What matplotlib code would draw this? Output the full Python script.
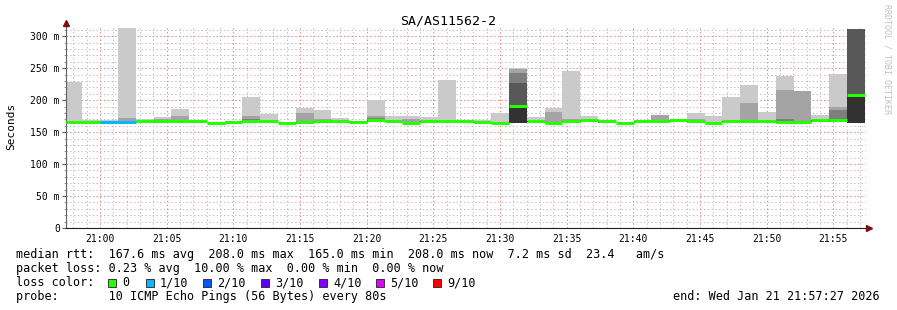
import matplotlib.pyplot as plt
from matplotlib.patches import Rectangle
import numpy as np

# ---- data (ms), one value per 80 s step ----
rtt_min = [165, 165, 165, 165, 166, 166, 166, 166, 164, 165,
           166, 166, 164, 165, 166, 166, 165, 166, 166, 164,
           166, 166, 166, 165, 164, 165, 166, 164, 166, 166,
           165, 164, 165, 166, 166, 166, 164, 166, 166, 166,
           165, 165, 166, 166, 165]
# sorted upper pings of the 10: p9 = max ... p5
p9 = [229, 169, 169, 313, 171, 173, 186, 168, 166, 167,
      205, 178, 165, 187, 184, 172, 167, 200, 175, 175,
      173, 231, 168, 169, 180, 251, 173, 187, 246, 175,
      168.5, 165, 167, 176, 169, 180, 174.5, 205, 223, 181,
      238, 214, 177, 241, 312]
p8 = [166, 166, 166, 172, 168, 170, 175, 167, 165, 166,
      175, 167, 165, 180, 170, 167, 166, 175, 167, 170,
      169, 167, 168, 166, 165, 248, 167, 181, 171, 169,
      168, 165, 167, 176, 169, 170, 165, 167, 196, 167,
      216, 214, 169, 190, 312]
p7 = [166, 166, 166, 166, 167, 167, 167, 167, 165, 166,
      171, 167, 165, 166, 167, 167, 166, 172, 167, 165,
      167, 167, 168, 166, 165, 242, 167, 165, 167, 169,
      168, 165, 167, 167, 169, 167, 165, 167, 167, 167,
      170, 166, 169, 184, 312]
p6 = [166, 166, 166, 166, 167, 167, 167, 167, 165, 166,
      168, 167, 165, 166, 167, 167, 166, 169, 167, 165,
      167, 167, 168, 166, 165, 227, 167, 165, 167, 169,
      168, 165, 167, 167, 169, 167, 165, 167, 167, 167,
      166, 166, 169, 169, 312]
p5 = [166, 166, 166, 166, 167, 167, 167, 167, 165, 166,
      168, 167, 165, 166, 167, 167, 166, 169, 167, 165,
      167, 167, 168, 166, 165, 192, 167, 165, 167, 169,
      168, 165, 167, 167, 169, 167, 165, 167, 167, 167,
      166, 166, 169, 169, 209]
median = [166, 166, 166, 166, 167, 167, 167, 167, 165, 166,
          168, 167, 165, 166, 167, 167, 166, 169, 167, 165,
          167, 167, 168, 166, 165, 191, 167, 165, 167, 169,
          168, 165, 167, 167, 169, 167, 165, 167, 167, 167,
          166, 166, 169, 169, 208]
loss = [0, 0, 1, 1, 0, 0, 0, 0, 0, 0,
        0, 0, 0, 0, 0, 0, 0, 0, 0, 0,
        0, 0, 0, 0, 0, 0, 0, 0, 0, 0,
        0, 0, 0, 0, 0, 0, 0, 0, 0, 0,
        0, 0, 0, 0, 0]

loss_labels = ["0", "1/10", "2/10", "3/10", "4/10", "5/10", "9/10"]
loss_colors = ["#26ff00", "#00b8ff", "#0059ff", "#5e00ff", "#7e00ff", "#dd00ff", "#ff0000"]
loss_index = {0: 0, 1: 1, 2: 2, 3: 3, 4: 4, 5: 5, 9: 6}

tick_minutes = [0, 5, 10, 15, 20, 25, 30, 35, 40, 45, 50, 55]
tick_labels = ["21:00", "21:05", "21:10", "21:15", "21:20", "21:25",
               "21:30", "21:35", "21:40", "21:45", "21:50", "21:55"]
y_ticks = [0, 50, 100, 150, 200, 250, 300]
y_labels = ["0", "50 m", "100 m", "150 m", "200 m", "250 m", "300 m"]

legend_lines = [
    "median rtt:  167.6 ms avg  208.0 ms max  165.0 ms min  208.0 ms now  7.2 ms sd  23.4   am/s",
    "packet loss: 0.23 % avg  10.00 % max  0.00 % min  0.00 % now",
    "loss color:",
    "probe:       10 ICMP Echo Pings (56 Bytes) every 80s",
]

# minutes relative to 21:00
t_start = -2 - 33 / 60.0
t_end = 57 + 27 / 60.0
bin0 = -2 - 39 / 60.0
step = 80 / 60.0

W, H = 897, 310
MONO = "DejaVu Sans Mono"


def fx(px):
    return px / W


def fy(py):
    return 1 - py / H


def main():
    fig = plt.figure(figsize=(W / 100, H / 100), dpi=100)
    fig.patch.set_facecolor("white")
    ax = fig.add_axes([fx(66), fy(228), fx(866) - fx(66), fy(26) - fy(228)])
    ax.set_xlim(t_start, t_end)
    ax.set_ylim(0, 316)

    x = bin0 + step * np.arange(len(median))
    base = np.array(rtt_min, dtype=float)
    shades = ["#cacaca", "#a4a4a4", "#7e7e7e", "#585858", "#323232"]
    for top, col in zip([p9, p8, p7, p6, p5], shades):
        top = np.array(top, dtype=float)
        ax.bar(x, top - base, bottom=base, width=step, align="edge",
               color=col, linewidth=0, zorder=2)

    for xi, m, l in zip(x, median, loss):
        ax.hlines(m, max(xi, t_start), xi + step, color=loss_colors[loss_index[l]],
                  linewidth=2.2, zorder=3)

    # grid
    ax.set_xticks(tick_minutes)
    ax.set_xticklabels(tick_labels, family=MONO, fontsize=7)
    ax.set_xticks(np.arange(-2, 58, 1), minor=True)
    ax.set_yticks(y_ticks)
    ax.set_yticklabels(y_labels, family=MONO, fontsize=7)
    ax.set_yticks(np.arange(0, 320, 10), minor=True)
    ax.grid(which="minor", color="#c4c4c4", linestyle=(0, (1.4, 2.2)), linewidth=0.75, zorder=0)
    ax.grid(which="major", color="#f08888", linestyle=(0, (1.4, 2.2)), linewidth=0.75, zorder=1)
    ax.set_axisbelow(True)
    ax.tick_params(axis="x", which="both", length=0, pad=4)
    ax.tick_params(axis="y", which="major", length=3, pad=1.5, color="#606060")
    ax.tick_params(axis="y", which="minor", length=1.5, color="#909090")

    for s in ["top", "right"]:
        ax.spines[s].set_visible(False)
    ax.spines["left"].set_color("#606060")
    ax.spines["bottom"].set_color("#202020")
    ax.plot([t_start], [320], marker="^", color="#7a1010", markersize=4, clip_on=False, zorder=5)
    ax.plot([t_end + 0.2], [0], marker=">", color="#7a1010", markersize=4, clip_on=False, zorder=5)

    fig.text(fx(11), fy(126), "Seconds", rotation=90, family=MONO, fontsize=8,
             ha="center", va="center")
    fig.text(fx(448), fy(24), "SA/AS11562-2", family=MONO, fontsize=9.5,
             ha="center", va="baseline")
    fig.text(fx(887), fy(59), "RRDTOOL / TOBI OETIKER", rotation=270, family=MONO,
             fontsize=6, color="#c0c0c0", ha="center", va="center")

    for i, line in enumerate(legend_lines):
        fig.text(fx(16), fy(258 + 14 * i), line, family=MONO, fontsize=8.5, va="baseline")
    fig.text(fx(880), fy(300), "end: Wed Jan 21 21:57:27 2026", family=MONO,
             fontsize=8.5, ha="right", va="baseline")

    sq_x = [108, 146, 203, 261, 319, 376, 433]
    for px, lab, col in zip(sq_x, loss_labels, loss_colors):
        fig.patches.append(Rectangle((fx(px), fy(287)), fx(8), 8 / H, facecolor=col,
                                     edgecolor="#202020", linewidth=0.6,
                                     transform=fig.transFigure, figure=fig))
        fig.text(fx(px + 14), fy(286), lab, family=MONO, fontsize=8.5, va="baseline")

    fig.savefig("out.png", dpi=100)


if __name__ == "__main__":
    main()
